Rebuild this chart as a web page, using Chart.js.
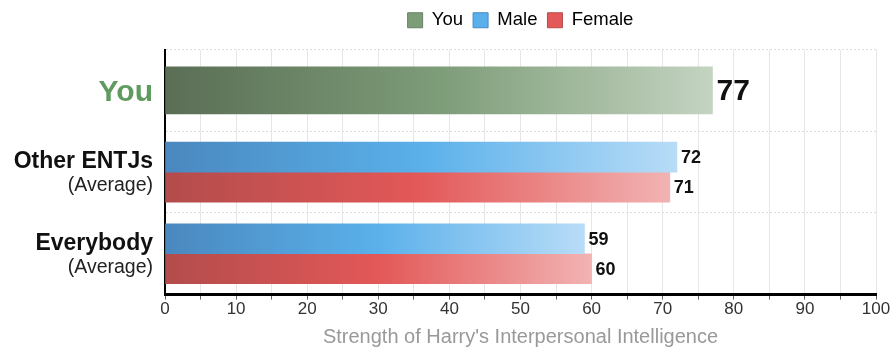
<!DOCTYPE html>
<html>
<head>
<meta charset="utf-8">
<script src="https://cdn.jsdelivr.net/npm/chart.js@4.4.1/dist/chart.umd.min.js"></script>
<style>
    html, body { margin: 0; padding: 0; background: #fff; }
    #wrap { width: 895px; height: 347px; position: relative; }
</style>
</head>
<body>
<div id="wrap"><canvas id="chart"></canvas></div>
<script>
// Chart data
const categories = ['You', 'Other ENTJs', 'Everybody'];
const subLabels = ['', '(Average)', '(Average)'];
const youValues = [77, null, null];
const maleValues = [null, 72, 59];
const femaleValues = [null, 71, 60];
const xTitle = "Strength of Harry's Interpersonal Intelligence";

// dark -> saturated -> light, per bar
const youColors = ['#5a6e55', '#7d9c78', '#c4d4c1'];
const maleColors = ['#4a88bf', '#5ab0ea', '#b8dcf7'];
const femaleColors = ['#b34c4c', '#e35858', '#f2b3b3'];

const FONT = '"Liberation Sans", Arial, sans-serif';
Chart.defaults.font.family = FONT;
Chart.defaults.color = '#333';

function barGradient(stops) {
    return (ctx) => {
        const chart = ctx.chart;
        if (!chart.chartArea || ctx.type !== 'data' || ctx.raw == null) return stops[1];
        const x = chart.scales.x;
        const x0 = x.getPixelForValue(0);
        const x1 = x.getPixelForValue(ctx.raw);
        const g = chart.ctx.createLinearGradient(x0, 0, x1, 0);
        g.addColorStop(0, stops[0]);
        g.addColorStop(0.5, stops[1]);
        g.addColorStop(1, stops[2]);
        return g;
    };
}

// a bit more room under the legend
const legendMargin = {
    id: 'legendMargin',
    beforeInit(chart) {
        const fit = chart.legend.fit;
        chart.legend.fit = function () {
            fit.bind(chart.legend)();
            this.height += 10;
        };
    }
};

// category labels on the left, mixed fonts per line
const yLabelsPlugin = {
    id: 'yLabels',
    afterDraw(chart) {
        const ctx = chart.ctx;
        const y = chart.scales.y;
        const right = chart.chartArea.left - 12;
        ctx.save();
        ctx.textAlign = 'right';
        ctx.textBaseline = 'middle';
        categories.forEach((cat, i) => {
            const cy = y.getPixelForTick(i);
            if (i === 0) {
                ctx.font = 'bold 30px ' + FONT;
                ctx.fillStyle = '#5f9a5f';
                ctx.fillText(cat, right, cy + 2);
            } else {
                ctx.font = 'bold 23px ' + FONT;
                ctx.fillStyle = '#111';
                ctx.fillText(cat, right, cy - 10);
                ctx.font = '19.5px ' + FONT;
                ctx.fillStyle = '#222';
                ctx.fillText(subLabels[i], right, cy + 14);
            }
        });
        ctx.restore();
    }
};

// value labels at the end of each bar
const valueLabelsPlugin = {
    id: 'valueLabels',
    afterDatasetsDraw(chart) {
        const ctx = chart.ctx;
        ctx.save();
        ctx.textAlign = 'left';
        ctx.textBaseline = 'middle';
        ctx.fillStyle = '#111';
        chart.data.datasets.forEach((ds, di) => {
            const meta = chart.getDatasetMeta(di);
            meta.data.forEach((bar, i) => {
                const v = ds.data[i];
                if (v == null) return;
                ctx.font = di === 0 ? 'bold 30px ' + FONT : 'bold 18px ' + FONT;
                ctx.fillText(v, bar.x + 4, bar.y + 1);
            });
        });
        ctx.restore();
    }
};

new Chart(document.getElementById('chart'), {
    type: 'bar',
    data: {
        labels: categories,
        datasets: [
            { label: 'You', data: youValues, backgroundColor: barGradient(youColors), barThickness: 47, skipNull: true },
            { label: 'Male', data: maleValues, backgroundColor: barGradient(maleColors), barThickness: 30, skipNull: true },
            { label: 'Female', data: femaleValues, backgroundColor: barGradient(femaleColors), barThickness: 30, skipNull: true }
        ]
    },
    options: {
        indexAxis: 'y',
        responsive: true,
        maintainAspectRatio: false,
        animation: false,
        layout: { padding: { left: 0, right: 19, top: 1, bottom: 0 } },
        plugins: {
            tooltip: { enabled: false },
            legend: {
                position: 'top',
                fullSize: false,
                labels: {
                    boxWidth: 15,
                    boxHeight: 15,
                    padding: 10,
                    color: '#333',
                    font: { size: 18.5 },
                    generateLabels: () => [
                        { text: 'You', fillStyle: youColors[1], strokeStyle: '#6b7f68', lineWidth: 1, datasetIndex: 0 },
                        { text: 'Male', fillStyle: maleColors[1], strokeStyle: '#4a88bf', lineWidth: 1, datasetIndex: 1 },
                        { text: 'Female', fillStyle: femaleColors[1], strokeStyle: '#b34c4c', lineWidth: 1, datasetIndex: 2 }
                    ]
                }
            }
        },
        scales: {
            x: {
                min: 0,
                max: 100,
                ticks: {
                    stepSize: 5,
                    autoSkip: false,
                    maxRotation: 0,
                    color: '#333',
                    font: { size: 17 },
                    padding: 0,
                    callback: (v) => (v % 10 === 0 ? v : '')
                },
                grid: {
                    color: '#e6e6e6',
                    tickColor: '#666',
                    tickLength: 5
                },
                border: { color: '#000', width: 3 },
                title: {
                    display: true,
                    text: xTitle,
                    color: '#999',
                    font: { size: 20, lineHeight: 1 },
                    padding: { top: 7, bottom: 0 }
                }
            },
            y: {
                offset: true,
                ticks: { display: false },
                grid: {
                    offset: true,
                    color: '#dcdcdc',
                    drawTicks: false
                },
                border: { color: '#000', width: 2, dash: [2, 2] },
                afterFit: (scale) => { scale.width = 165; }
            }
        }
    },
    plugins: [legendMargin, yLabelsPlugin, valueLabelsPlugin]
});
</script>
</body>
</html>
